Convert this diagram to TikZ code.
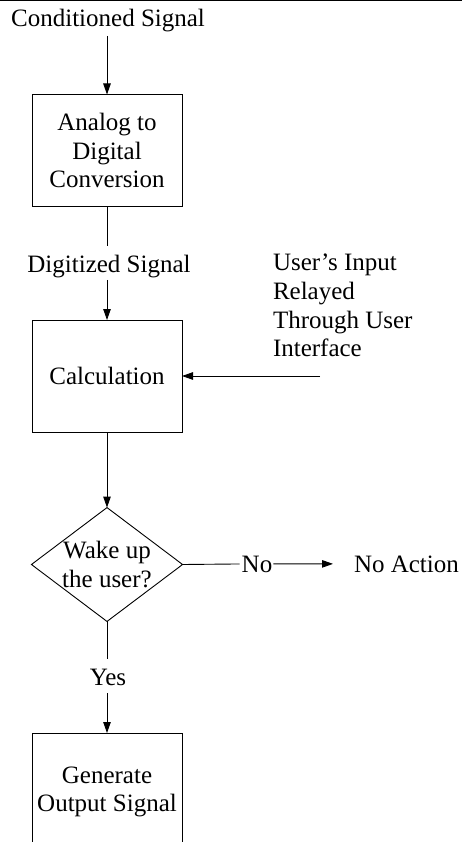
\documentclass[tikz,border=0pt]{standalone}
\usepackage{fontspec}
\setmainfont{Liberation Serif}
\usetikzlibrary{arrows.meta,shapes.geometric}
\begin{document}
\begin{tikzpicture}[x=1pt,y=-1pt,
  every node/.style={font=\fontsize{25}{28.7}\selectfont, inner sep=0pt, outer sep=0pt},
  box/.style={draw, line width=0.9pt, minimum width=150pt, minimum height=112pt, align=center},
  dec/.style={draw, diamond, aspect=1.327, line width=0.9pt, minimum width=150pt, minimum height=113pt, align=center},
  lbl/.style={anchor=base},
  conn/.style={line width=0.9pt},
  arr/.style={conn, -{Triangle[length=11pt,width=7.5pt]}},
]
\useasboundingbox (0,0) rectangle (462,842);
\clip (0,0) rectangle (462,842);
\draw[line width=1.5pt] (0,0.75) -- (462,0.75);

\node[lbl] (cond) at (108,27) {Conditioned Signal};
\node[box] (adc) at (107,150.5) {Analog to\\Digital\\Conversion};
\node[lbl] (dig) at (109,272) {Digitized Signal};
\node[box] (calc) at (107,376) {Calculation};
\node[anchor=north west, align=left] (user) at (273,254) {User's Input\\Relayed\\Through User\\Interface};
\coordinate (uin) at (320,376);
\node[dec] (wake) at (107,564.5) {Wake up\\the user?};
\node[lbl] (no) at (257,572) {No};
\node[anchor=base west] (noact) at (354,572) {No Action};
\node[lbl] (yes) at (108,685) {Yes};
\node[box, minimum height=118pt] (gen) at (107,792) {Generate\\Output Signal};

\draw[arr, shorten <=3.5pt] (cond.south -| adc.north) -- (adc.north);
\draw[conn, shorten >=9pt] (adc.south) -- (adc.south |- dig.north);
\draw[arr, shorten <=2.5pt] (adc.south |- dig.south) -- (calc.north);
\draw[arr] (uin) -- (calc.east);
\draw[arr] (calc.south) -- (wake.north);
\draw[conn, shorten >=2pt] (wake.east) -- (no.west);
\draw[arr, shorten <=1pt, shorten >=21pt] (no.east) -- (noact.west);
\draw[conn, shorten >=9.5pt] (wake.south) -- (wake.south |- yes.north);
\draw[arr, shorten <=8pt] (wake.south |- yes.south) -- (gen.north);
\end{tikzpicture}
\end{document}
